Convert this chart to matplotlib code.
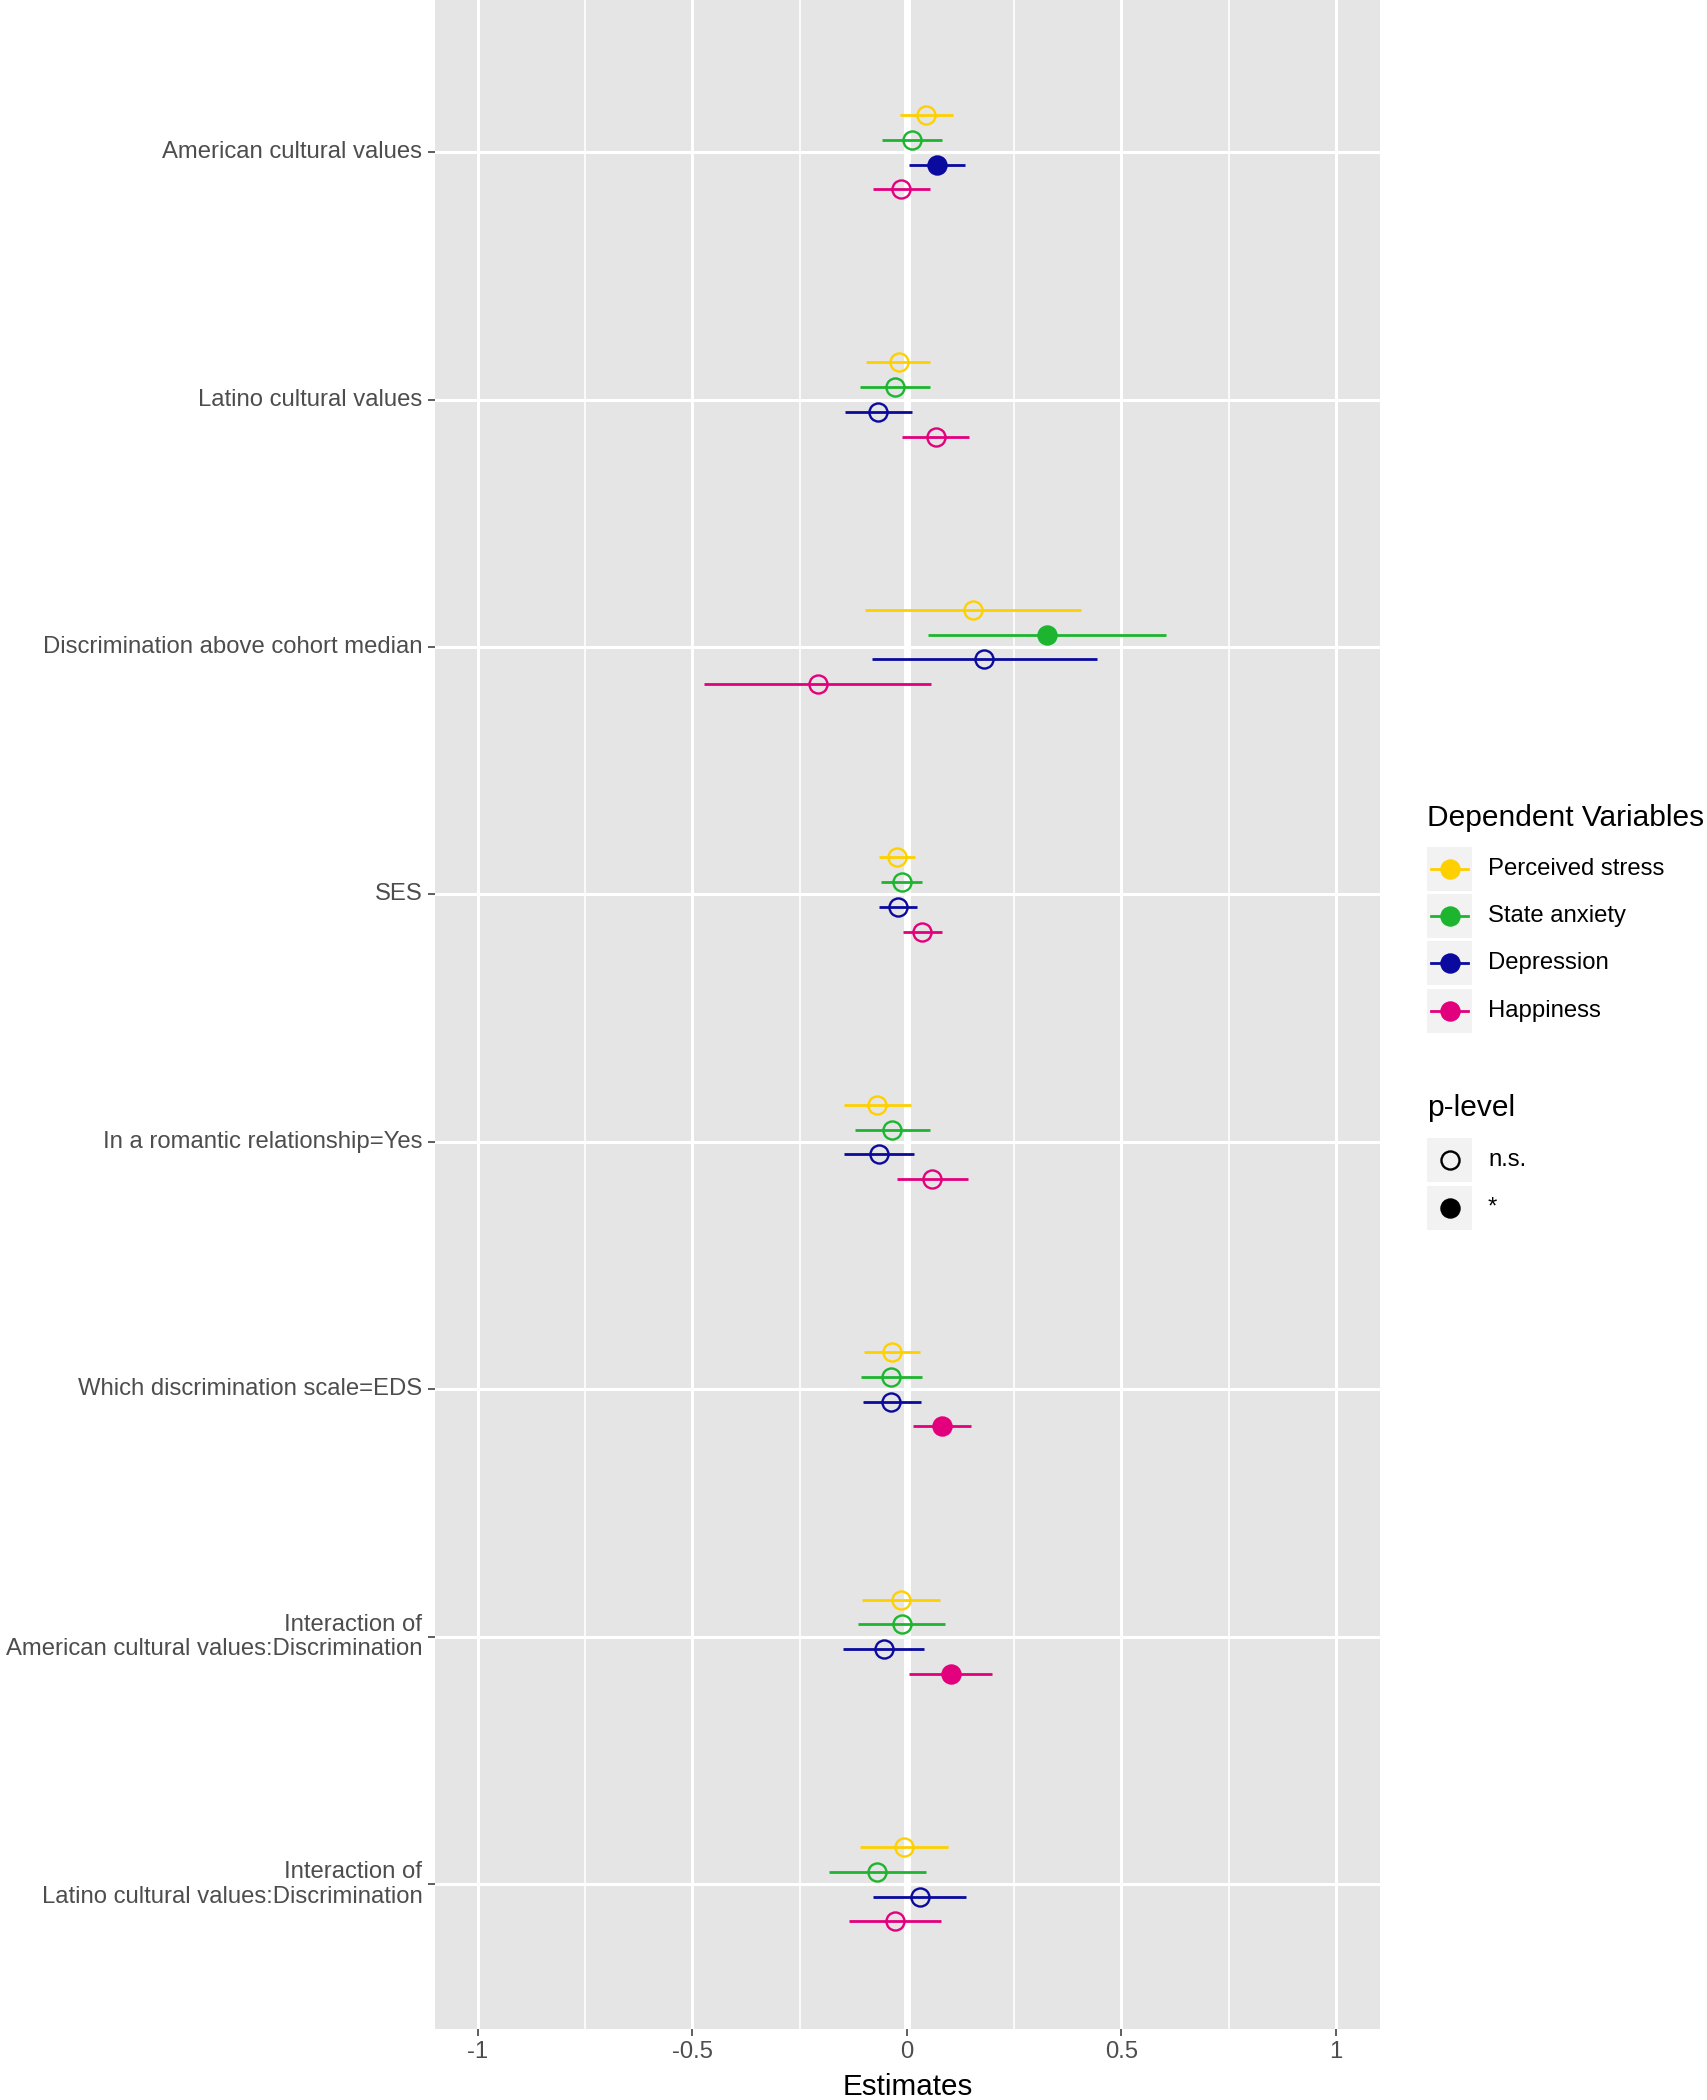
import numpy as np
import matplotlib.pyplot as plt
from matplotlib.patches import Rectangle

plt.rcParams['font.family'] = ['Liberation Sans', 'DejaVu Sans']

# predictors, top to bottom
predictors = [
    "American cultural values",
    "Latino cultural values",
    "Discrimination above cohort median",
    "SES",
    "In a romantic relationship=Yes",
    "Which discrimination scale=EDS",
    "Interaction of\nAmerican cultural values:Discrimination",
    "Interaction of\nLatino cultural values:Discrimination",
]

dv_names = ["Perceived stress", "State anxiety", "Depression", "Happiness"]
dv_colors = ["#FFD000", "#1DB52F", "#0A0A9E", "#E3007D"]

stress_est = [0.045, -0.019, 0.154, -0.023, -0.069, -0.034, -0.014, -0.007]
stress_lo = [-0.017, -0.096, -0.098, -0.065, -0.147, -0.099, -0.105, -0.109]
stress_hi = [0.107, 0.055, 0.406, 0.020, 0.010, 0.031, 0.078, 0.097]
stress_sig = [0, 0, 0, 0, 0, 0, 0, 0]

anxiety_est = [0.012, -0.027, 0.327, -0.012, -0.035, -0.036, -0.012, -0.070]
anxiety_lo = [-0.057, -0.110, 0.049, -0.060, -0.120, -0.108, -0.114, -0.182]
anxiety_hi = [0.082, 0.055, 0.604, 0.035, 0.053, 0.036, 0.089, 0.044]
anxiety_sig = [0, 0, 1, 0, 0, 0, 0, 0]

depression_est = [0.070, -0.068, 0.181, -0.020, -0.066, -0.036, -0.054, 0.030]
depression_lo = [0.005, -0.145, -0.081, -0.065, -0.147, -0.103, -0.149, -0.078]
depression_hi = [0.136, 0.012, 0.443, 0.024, 0.016, 0.032, 0.041, 0.137]
depression_sig = [1, 0, 0, 0, 0, 0, 0, 0]

happiness_est = [-0.013, 0.068, -0.208, 0.036, 0.059, 0.082, 0.103, -0.028]
happiness_lo = [-0.079, -0.011, -0.472, -0.009, -0.023, 0.014, 0.006, -0.135]
happiness_hi = [0.053, 0.146, 0.056, 0.081, 0.142, 0.150, 0.199, 0.080]
happiness_sig = [0, 0, 0, 0, 0, 1, 1, 0]

series = [
    (stress_est, stress_lo, stress_hi, stress_sig),
    (anxiety_est, anxiety_lo, anxiety_hi, anxiety_sig),
    (depression_est, depression_lo, depression_hi, depression_sig),
    (happiness_est, happiness_lo, happiness_hi, happiness_sig),
]
offsets = [-0.15, -0.05, 0.05, 0.15]

W, H = 1707, 2100
fig = plt.figure(figsize=(W / 100, H / 100), dpi=100)
ax = fig.add_axes([435 / W, 1 - 2029 / H, 945 / W, 2029 / H])
ax.set_facecolor("#E5E5E5")
for s in ax.spines.values():
    s.set_visible(False)

# grid
for x in [-0.75, -0.25, 0.25, 0.75]:
    ax.axvline(x, color="white", lw=1.2, zorder=0)
for x in [-1, -0.5, 0.5, 1]:
    ax.axvline(x, color="white", lw=2.2, zorder=0)
ypos = np.arange(len(predictors))
for y in ypos:
    ax.axhline(y, color="white", lw=2.2, zorder=0)
ax.axvline(0, color="white", lw=5, zorder=1)

for (est, lo, hi, sig), col, off in zip(series, dv_colors, offsets):
    y = ypos + off
    ax.hlines(y, lo, hi, color=col, lw=2.0, zorder=2)
    for yi, e, s in zip(y, est, sig):
        ax.plot(e, yi, "o", ms=13, mew=1.7, mec=col,
                mfc=col if s else "none", zorder=3)

ax.set_xlim(-1.1, 1.103)
ax.set_ylim(len(predictors) - 0.415, -0.615)
ax.set_xticks([-1, -0.5, 0, 0.5, 1])
ax.set_xticklabels(["-1", "-0.5", "0", "0.5", "1"])
ax.set_yticks(ypos)
ax.set_yticklabels(predictors, ha="right", va="center", linespacing=1.15)
ax.tick_params(axis="both", length=5, width=1.1, color="#333333",
               labelcolor="#4D4D4D", labelsize=17.2, pad=4)
ax.set_xlabel("Estimates", fontsize=21.3, color="black", labelpad=7)

# legend drawn in pixel coordinates
lax = fig.add_axes([0, 0, 1, 1], zorder=5)
lax.set_xlim(0, W)
lax.set_ylim(H, 0)
lax.axis("off")
lax.text(1427, 818, "Dependent Variables", fontsize=21.5, va="center", ha="left")
key_y = [869, 916, 963, 1011]
for ky, name, col in zip(key_y, dv_names, dv_colors):
    lax.add_patch(Rectangle((1427, ky - 22), 45, 44, color="#F2F2F2", lw=0))
    lax.plot([1431, 1468], [ky, ky], color=col, lw=2.0)
    lax.plot(1449.5, ky, "o", ms=13, mew=1.7, mec=col, mfc=col)
    lax.text(1488, ky, name, fontsize=17.2, va="center", ha="left")

lax.text(1427, 1108, "p-level", fontsize=21.5, va="center", ha="left")
p_y = [1160, 1208]
for ky, name, filled in zip(p_y, ["n.s.", "*"], [False, True]):
    lax.add_patch(Rectangle((1427, ky - 22), 45, 44, color="#F2F2F2", lw=0))
    lax.plot(1449.5, ky, "o", ms=13, mew=1.7, mec="black",
             mfc="black" if filled else "none")
    lax.text(1488, ky, name, fontsize=17.2, va="center", ha="left")

fig.savefig("out.png", dpi=100, facecolor="white")
